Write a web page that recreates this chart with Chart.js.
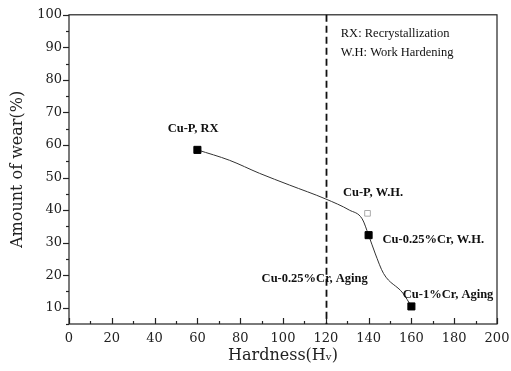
<!DOCTYPE html>
<html>
<head>
<meta charset="UTF-8">
<script src="https://cdn.jsdelivr.net/npm/chart.js"></script>
<style>
  body { margin: 0; background: #fff; }
  #wrap { width: 511px; height: 371px; }
</style>
</head>
<body>
<div id="wrap"><canvas id="wearChart" width="511" height="371"></canvas></div>
<script>
// measured points
var hardness = [60, 140, 160];
var wear = [58.5, 32.3, 10.4];

// Cu-P, W.H. (open square)
var whHardness = [139.5];
var whWear = [39];

// fitted curve
var curveX = [60, 75, 89, 103, 120, 131, 137, 140, 143, 147, 156, 160];
var curveY = [58.5, 55.3, 51.3, 47.7, 43.4, 40, 37.3, 32.3, 26.8, 20.5, 14.5, 10.4];

var xTicks = [0, 20, 40, 60, 80, 100, 120, 140, 160, 180, 200];
var yTicks = [10, 20, 30, 40, 50, 60, 70, 80, 90, 100];

var notes = [
    { text: 'Cu-P, RX', x: 58, y: 65, bold: true, align: 'center' },
    { text: 'RX: Recrystallization', x: 127, y: 94.2, bold: false, align: 'left' },
    { text: 'W.H: Work Hardening', x: 127, y: 88.4, bold: false, align: 'left' },
    { text: 'Cu-P, W.H.', x: 128, y: 45.2, bold: true, align: 'left' },
    { text: 'Cu-0.25%Cr, W.H.', x: 146.5, y: 30.8, bold: true, align: 'left' },
    { text: 'Cu-0.25%Cr, Aging', x: 90, y: 18.9, bold: true, align: 'left' },
    { text: 'Cu-1%Cr, Aging', x: 156, y: 14, bold: true, align: 'left' }
];

var serif = '"Liberation Serif", "DejaVu Serif", serif';
var wide = '"DejaVu Serif", serif';

// ticks, frame, dashed line at 120 and the text notes
var extras = {
    id: 'extras',
    afterDraw: function (chart) {
        var c = chart.ctx;
        var xs = chart.scales.x, ys = chart.scales.y;
        var a = chart.chartArea;
        c.save();
        c.strokeStyle = '#222';
        c.lineWidth = 1.2;
        c.strokeRect(a.left, a.top, a.right - a.left, a.bottom - a.top);

        // x ticks, pointing in
        for (var v = 0; v <= 200; v += 10) {
            var px = Math.round(xs.getPixelForValue(v)) + 0.5;
            var len = v % 20 === 0 ? 6 : 3;
            c.beginPath();
            c.moveTo(px, a.bottom);
            c.lineTo(px, a.bottom - len);
            c.stroke();
        }
        // y ticks, pointing out
        for (var w = 5; w <= 100; w += 5) {
            var py = Math.round(ys.getPixelForValue(w)) + 0.5;
            var l2 = w % 10 === 0 ? 6 : 3;
            c.beginPath();
            c.moveTo(a.left, py);
            c.lineTo(a.left - l2, py);
            c.stroke();
        }

        // dashed line at Hv 120
        var dx = Math.round(xs.getPixelForValue(120)) + 0.5;
        c.setLineDash([7, 4]);
        c.lineWidth = 1.8;
        c.strokeStyle = '#111';
        c.beginPath();
        c.moveTo(dx, a.top);
        c.lineTo(dx, a.bottom);
        c.stroke();
        c.setLineDash([]);

        c.fillStyle = '#111';
        c.textBaseline = 'middle';
        notes.forEach(function (n) {
            c.font = (n.bold ? 'bold 12.5px ' : '12.5px ') + serif;
            c.textAlign = n.align;
            c.fillText(n.text, xs.getPixelForValue(n.x), ys.getPixelForValue(n.y));
        });
        c.restore();
    }
};

var ctx = document.getElementById('wearChart').getContext('2d');
var wearChart = new Chart(ctx, {
    type: 'scatter',
    data: {
        datasets: [{
            data: curveX.map(function (x, i) { return { x: x, y: curveY[i] }; }),
            showLine: true,
            cubicInterpolationMode: 'monotone',
            borderColor: '#333',
            borderWidth: 1,
            pointRadius: 0,
            order: 3
        }, {
            data: hardness.map(function (x, i) { return { x: x, y: wear[i] }; }),
            pointStyle: 'rect',
            pointRadius: 5,
            backgroundColor: '#000',
            borderColor: '#000',
            order: 1
        }, {
            data: whHardness.map(function (x, i) { return { x: x, y: whWear[i] }; }),
            pointStyle: 'rect',
            pointRadius: 4,
            backgroundColor: '#fff',
            borderColor: '#aaa',
            borderWidth: 1,
            order: 2
        }]
    },
    options: {
        responsive: false,
        animation: false,
        layout: { padding: { top: 14, right: 0, left: 0, bottom: 0 } },
        plugins: { legend: { display: false }, tooltip: { enabled: false } },
        scales: {
            x: {
                type: 'linear',
                min: 0,
                max: 200,
                afterBuildTicks: function (s) { s.ticks = xTicks.map(function (v) { return { value: v }; }); },
                afterFit: function (s) { s.height = 47; s.paddingRight = 14; s.paddingLeft = 0; },
                grid: { display: false, drawTicks: false },
                border: { display: false },
                ticks: { color: '#222', padding: 7, maxRotation: 0, font: { family: wide, size: 13 } },
                title: {
                    display: true,
                    text: 'Hardness(H\u1D65)',
                    color: '#222',
                    padding: { top: 0, bottom: 6 },
                    font: { family: wide, size: 16 }
                }
            },
            y: {
                type: 'linear',
                min: 5,
                max: 100,
                afterBuildTicks: function (s) { s.ticks = yTicks.map(function (v) { return { value: v }; }); },
                afterFit: function (s) { s.width = 69; },
                grid: { display: false, drawTicks: false },
                border: { display: false },
                ticks: { color: '#222', padding: 7, font: { family: wide, size: 13 } },
                title: {
                    display: true,
                    text: 'Amount of wear(%)',
                    color: '#222',
                    padding: { top: 8, bottom: 0 },
                    font: { family: wide, size: 16 }
                }
            }
        }
    },
    plugins: [extras]
});
</script>
</body>
</html>
